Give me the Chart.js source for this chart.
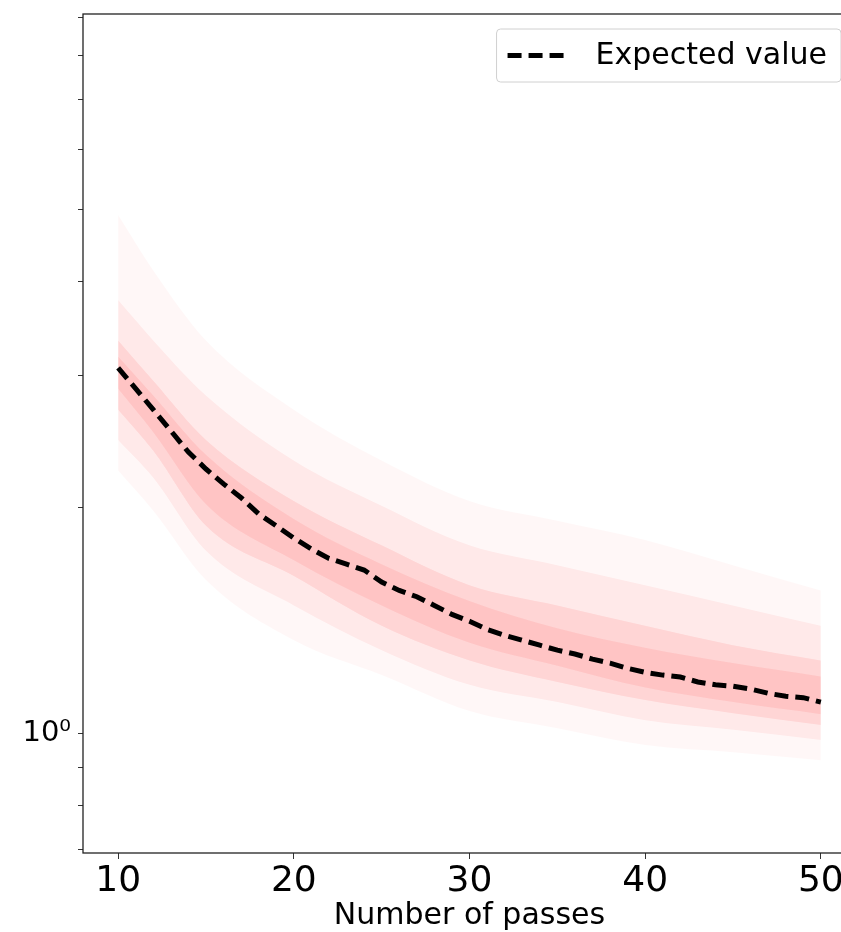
<!DOCTYPE html>
<html>
<head>
<meta charset="utf-8">
<script src="https://cdn.jsdelivr.net/npm/chart.js@4/dist/chart.umd.min.js"></script>
<style>
  html, body { margin: 0; padding: 0; background: #fff; overflow: hidden; }
  #wrap { width: 841px; height: 932px; overflow: hidden; }
</style>
</head>
<body>
<div id="wrap"><canvas id="chart" width="860" height="932"></canvas></div>
<script>
// expected value per number of passes
var passes = [10, 11, 12, 13, 14, 15, 16, 17, 18, 19, 20, 21, 22, 23, 24, 25, 26, 27, 28, 29, 30,
  31, 32, 33, 34, 35, 36, 37, 38, 39, 40, 41, 42, 43, 44, 45, 46, 47, 48, 49, 50];
var expected = [3.07, 2.88, 2.70, 2.53, 2.37, 2.25, 2.15, 2.06, 1.96, 1.89, 1.82, 1.76, 1.71, 1.68, 1.65,
  1.59, 1.55, 1.52, 1.48, 1.44, 1.41, 1.375, 1.35, 1.33, 1.31, 1.29, 1.275, 1.255, 1.24, 1.22, 1.205,
  1.195, 1.188, 1.17, 1.16, 1.155, 1.145, 1.13, 1.12, 1.115, 1.10];

// spread of the simulated runs (red cloud), read at a few passes
var bandPasses = [10, 12, 15, 20, 25, 30, 35, 40, 45, 50];
var outerUpper = [4.91, 4.14, 3.34, 2.70, 2.31, 2.04, 1.92, 1.81, 1.675, 1.55];
var outerLower = [2.24, 1.98, 1.60, 1.33, 1.195, 1.07, 1.015, 0.964, 0.943, 0.92];
var midUpper = [3.78, 3.34, 2.82, 2.31, 2.01, 1.78, 1.675, 1.575, 1.48, 1.39];
var midLower = [2.46, 2.19, 1.75, 1.48, 1.29, 1.16, 1.10, 1.04, 1.01, 0.979];
var innerUpper = [3.34, 2.95, 2.46, 2.04, 1.78, 1.575, 1.48, 1.39, 1.31, 1.25];
var innerLower = [2.70, 2.38, 1.89, 1.62, 1.39, 1.25, 1.17, 1.107, 1.063, 1.025];
var coreUpper = [3.18, 2.82, 2.35, 1.93, 1.68, 1.50, 1.38, 1.30, 1.24, 1.19];
var coreLower = [2.88, 2.52, 2.02, 1.70, 1.48, 1.32, 1.23, 1.15, 1.10, 1.06];

var xTicks = [10, 20, 30, 40, 50];
var yTicks = [0.7, 0.8, 0.9, 1, 2, 3, 4, 5, 6, 7, 8, 9];

function pts(xs, ys) {
  return xs.map(function(x, i) { return { x: x, y: ys[i] }; });
}

function band(data, fill, color) {
  return {
    data: data, fill: fill, backgroundColor: color, borderWidth: 0,
    pointRadius: 0, cubicInterpolationMode: 'monotone', order: 1
  };
}

var framePlugin = {
  id: 'frame',
  afterDraw: function(chart) {
    var ctx = chart.ctx, a = chart.chartArea;
    ctx.save();
    ctx.strokeStyle = '#222';
    ctx.lineWidth = 1.3;
    ctx.strokeRect(a.left, a.top, a.right - a.left, a.bottom - a.top);

    // legend box, upper right inside the axes
    var ds = chart.data.datasets[8];
    ctx.font = '30px "DejaVu Sans"';
    var tw = ctx.measureText(ds.label).width;
    var h = 53, right = a.right - 15, top = a.top + 15;
    var w = 11 + 63 + 25 + tw + 14;
    var left = right - w;
    ctx.fillStyle = 'rgba(255,255,255,0.8)';
    ctx.strokeStyle = '#d0d0d0';
    ctx.lineWidth = 1;
    ctx.beginPath();
    ctx.roundRect(left, top, w, h, 4);
    ctx.fill();
    ctx.stroke();
    ctx.strokeStyle = ds.borderColor;
    ctx.lineWidth = ds.borderWidth;
    ctx.setLineDash(ds.borderDash);
    ctx.beginPath();
    ctx.moveTo(left + 11, top + h / 2);
    ctx.lineTo(left + 11 + 63, top + h / 2);
    ctx.stroke();
    ctx.setLineDash([]);
    ctx.fillStyle = '#000';
    ctx.textBaseline = 'middle';
    ctx.fillText(ds.label, left + 11 + 63 + 25, top + h / 2 + 1);
    ctx.restore();
  }
};

new Chart(document.getElementById('chart'), {
  type: 'line',
  data: {
    datasets: [
      band(pts(bandPasses, outerUpper), { target: 1 }, 'rgba(255,0,0,0.03)'),
      band(pts(bandPasses, outerLower), false, 'rgba(0,0,0,0)'),
      band(pts(bandPasses, midUpper), { target: 3 }, 'rgba(255,0,0,0.06)'),
      band(pts(bandPasses, midLower), false, 'rgba(0,0,0,0)'),
      band(pts(bandPasses, innerUpper), { target: 5 }, 'rgba(255,0,0,0.09)'),
      band(pts(bandPasses, innerLower), false, 'rgba(0,0,0,0)'),
      band(pts(bandPasses, coreUpper), { target: 7 }, 'rgba(255,0,0,0.08)'),
      band(pts(bandPasses, coreLower), false, 'rgba(0,0,0,0)'),
      {
        label: 'Expected value',
        data: pts(passes, expected),
        borderColor: '#000',
        borderWidth: 5,
        borderDash: [14, 7],
        pointRadius: 0,
        fill: false,
        order: 0
      }
    ]
  },
  options: {
    responsive: false,
    animation: false,
    layout: { padding: { top: 14, right: 4, left: 0, bottom: 0 } },
    plugins: { legend: { display: false }, tooltip: { enabled: false } },
    scales: {
      x: {
        type: 'linear', min: 8, max: 52,
        afterBuildTicks: function(s) { s.ticks = xTicks.map(function(v) { return { value: v }; }); },
        afterFit: function(s) { s.height = 79; s.paddingLeft = 0; s.paddingRight = 0; },
        grid: { drawOnChartArea: false, tickLength: 6, tickColor: '#333', tickWidth: 1 },
        border: { display: false },
        ticks: {
          font: { size: 36, family: 'DejaVu Sans' }, color: '#000', padding: 1, maxRotation: 0,
          callback: function(v) { return String(v); }
        },
        title: {
          display: true, text: 'Number of passes', color: '#000',
          font: { size: 30, family: 'DejaVu Sans' }, padding: { top: 0, bottom: -2 }
        }
      },
      y: {
        type: 'logarithmic', min: 0.692, max: 9.1,
        afterBuildTicks: function(s) { s.ticks = yTicks.map(function(v) { return { value: v }; }); },
        afterFit: function(s) { s.width = 83; s.paddingTop = 0; s.paddingBottom = 0; },
        grid: { drawOnChartArea: false, tickLength: 5, tickColor: '#333', tickWidth: 1 },
        border: { display: false },
        ticks: {
          font: { size: 29, family: 'DejaVu Sans' }, color: '#000', padding: 7, autoSkip: false,
          callback: function(v) { return v === 1 ? '10\u2070' : ''; }
        }
      }
    }
  },
  plugins: [framePlugin]
});
</script>
</body>
</html>
